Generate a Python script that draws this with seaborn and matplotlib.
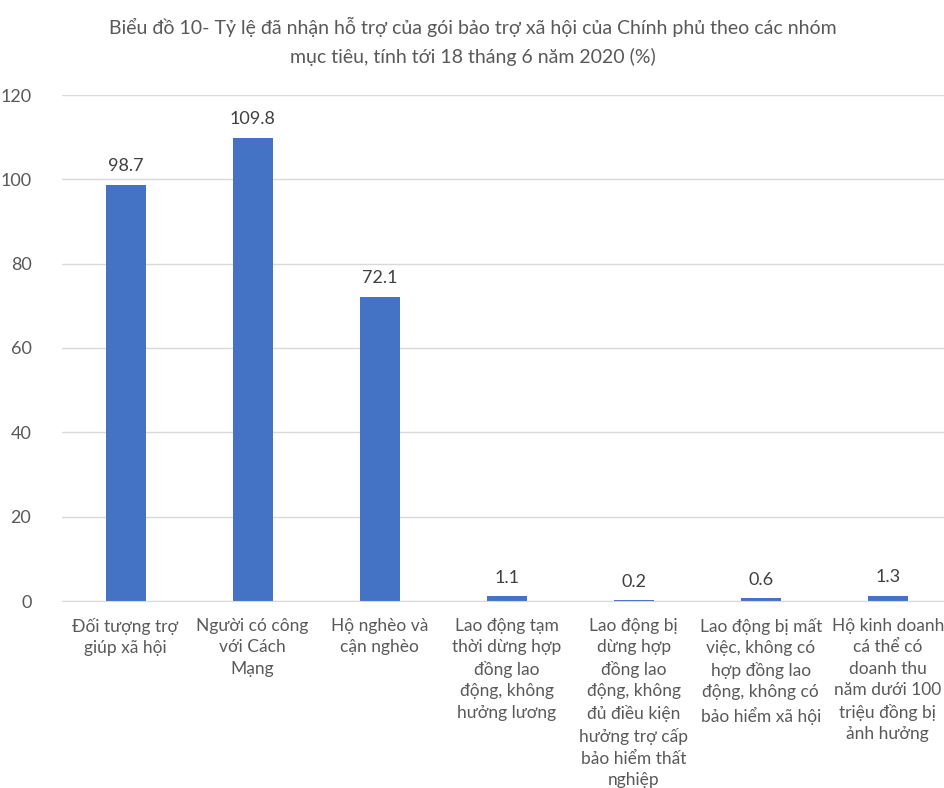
import matplotlib
matplotlib.use("Agg")
import matplotlib.pyplot as plt
import seaborn as sns
import pandas as pd

categories = [
    "Đối tượng trợ\ngiúp xã hội",
    "Người có công\nvới Cách\nMạng",
    "Hộ nghèo và\ncận nghèo",
    "Lao động tạm\nthời dừng hợp\nđồng lao\nđộng, không\nhưởng lương",
    "Lao động bị\ndừng hợp\nđồng lao\nđộng, không\nđủ điều kiện\nhưởng trợ cấp\nbảo hiểm thất\nnghiệp",
    "Lao động bị mất\nviệc, không có\nhợp đồng lao\nđộng, không có\nbảo hiểm xã hội",
    "Hộ kinh doanh\ncá thể có\ndoanh thu\nnăm dưới 100\ntriệu đồng bị\nảnh hưởng",
]
values = [98.7, 109.8, 72.1, 1.1, 0.2, 0.6, 1.3]
yticks = [0, 20, 40, 60, 80, 100, 120]
title = "Biểu đồ 10- Tỷ lệ đã nhận hỗ trợ của gói bảo trợ xã hội của Chính phủ theo các nhóm\nmục tiêu, tính tới 18 tháng 6 năm 2020 (%)"

sns.set_style("white")
plt.rcParams['font.family'] = ['Lato', 'DejaVu Sans']

gray = "#595959"
df = pd.DataFrame({"cat": categories, "val": values})

fig = plt.figure(figsize=(9.45, 7.88), dpi=100)
ax = fig.add_axes([62/945, (788-601)/788, (945-62)/945, (601-95)/788])
sns.barplot(data=df, x="cat", y="val", color="#4472C4", saturation=1, width=0.315, ax=ax, zorder=3)
for p in ax.patches:
    p.set_edgecolor("none")
ax.set_ylim(0, 120)
ax.set_xlim(-0.5, 6.45)
ax.set_yticks(yticks)
ax.set_yticklabels([str(t) for t in yticks], color=gray, fontsize=13)
ax.set_xlabel("")
ax.set_ylabel("")
ax.yaxis.grid(True, color="#D9D9D9", linewidth=1, zorder=0)
ax.xaxis.grid(False)
for s in ["left", "right", "top"]:
    ax.spines[s].set_visible(False)
ax.spines["bottom"].set_color("#D9D9D9")
ax.spines["bottom"].set_zorder(4)
ax.tick_params(axis="y", length=0, pad=22)
ax.tick_params(axis="x", length=0, pad=12)
ax.set_xticks(range(len(categories)))
ax.set_xticklabels(categories, color=gray, fontsize=12.5, linespacing=1.42)
for i, v in enumerate(values):
    ax.text(i, v + 2.5, f"{v:.1f}", ha="center", va="bottom", color="#404040", fontsize=13)
fig.text(0.5, 0.979, title, ha="center", va="top", color=gray, fontsize=14, linespacing=1.75)
fig.savefig("out.png", dpi=100)
